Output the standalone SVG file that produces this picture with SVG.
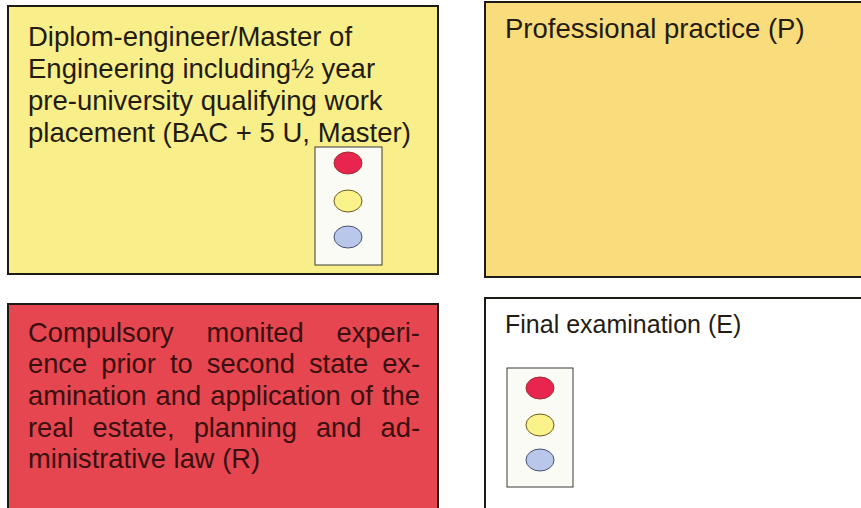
<svg xmlns="http://www.w3.org/2000/svg" width="861" height="508" viewBox="0 0 861 508">
<style>
.box{stroke:#1e1a16;stroke-width:2}
.t{font-family:"Liberation Sans",Arial,sans-serif;fill:#241c14}
.rt{font-family:"Liberation Sans",Arial,sans-serif;fill:#3a0f0f}
.lamp{fill:#fbfbf6;stroke:#3a3a3a;stroke-width:1}
.red{fill:#e8254f;stroke:#9a3030;stroke-width:1}
.yel{fill:#fbf38a;stroke:#6a5a20;stroke-width:1}
.blu{fill:#b9c8ea;stroke:#4a5070;stroke-width:1}
</style>
<rect width="861" height="508" fill="#ffffff"/>
<g id="node-diplom">
<rect class="box" x="8" y="6" width="430" height="268" fill="#f8ef8a"/>
<text class="t" font-size="27.5"><tspan x="28" y="46">Diplom-engineer/Master of</tspan><tspan x="28" y="78">Engineering including½ year</tspan><tspan x="28" y="110">pre-university qualifying work</tspan><tspan x="28" y="142">placement (BAC + 5 U, Master)</tspan></text>
<rect class="lamp" x="315" y="147" width="67" height="118"/>
<ellipse class="red" cx="348" cy="163" rx="14" ry="11"/>
<ellipse class="yel" cx="348" cy="201" rx="14" ry="11"/>
<ellipse class="blu" cx="348" cy="237" rx="14" ry="11"/>
</g>
<g id="node-practice">
<rect class="box" x="485" y="2" width="380" height="275" fill="#f9dc7c"/>
<text class="t" font-size="27.5" x="505" y="38">Professional practice (P)</text>
</g>
<g id="node-experience">
<rect class="box" x="8" y="304" width="430" height="210" fill="#e6464f"/>
<text class="rt" font-size="27.3">
<tspan x="28" y="342" style="word-spacing:25.3px">Compulsory monited experi-</tspan>
<tspan x="28" y="373" style="word-spacing:6.5px">ence prior to second state ex-</tspan>
<tspan x="28" y="405" style="word-spacing:1.6px">amination and application of the</tspan>
<tspan x="28" y="437" style="word-spacing:11.5px">real estate, planning and ad-</tspan>
<tspan x="28" y="468">ministrative law (R)</tspan>
</text>
</g>
<g id="node-exam">
<rect class="box" x="485" y="298" width="380" height="215" fill="#ffffff"/>
<text class="t" font-size="25" x="505" y="333">Final examination (E)</text>
<rect class="lamp" x="507" y="368" width="66" height="119"/>
<ellipse class="red" cx="540" cy="388" rx="14" ry="11"/>
<ellipse class="yel" cx="540" cy="425" rx="14" ry="11"/>
<ellipse class="blu" cx="540" cy="460" rx="14" ry="11"/>
</g>
<g id="connectors"></g>
</svg>
